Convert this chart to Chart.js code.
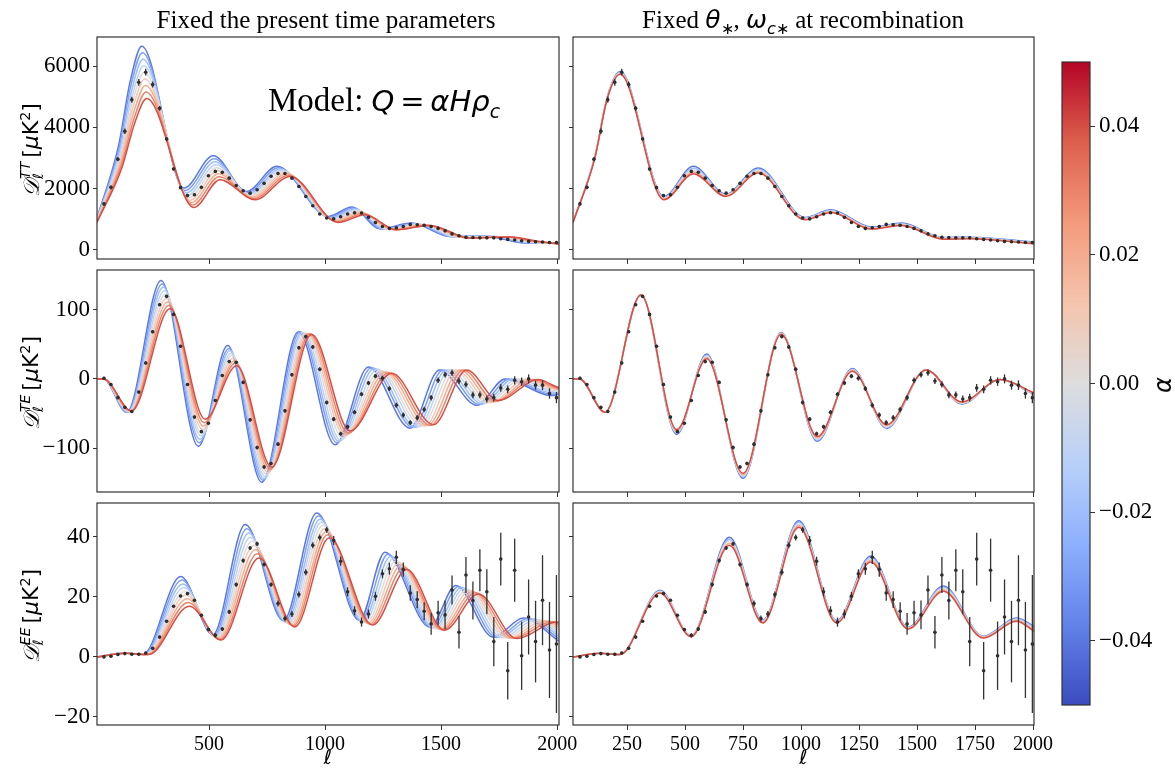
<!DOCTYPE html>
<html>
<head>
<meta charset="utf-8">
<script src="https://cdn.jsdelivr.net/npm/chart.js@4.4.0/dist/chart.umd.min.js"></script>
<style>
  body { margin: 0; background: #fff; }
  #wrap { position: relative; width: 1175px; height: 771px; overflow: hidden; font-family: 'Liberation Serif', serif; color: #000; }
  canvas { position: absolute; }
  .ttl { position: absolute; font-size: 25px; line-height: 25px; white-space: nowrap; transform: translateX(-50%); }
  .m { font-family: 'DejaVu Sans', sans-serif; font-style: italic; }
  .ylab { position: absolute; font-size: 22px; line-height: 22px; white-space: nowrap; transform: translate(-50%, -50%) rotate(-90deg); }
  .ylab .cal { font-family: 'DejaVu Sans', sans-serif; font-style: italic; font-size: 22px; }
  .ss { display: inline-flex; flex-direction: column; font-family: 'DejaVu Sans', sans-serif; font-style: italic; font-size: 14px; line-height: 13px; vertical-align: 8px; margin-right: 4px; }
  .sans { font-family: 'DejaVu Sans', sans-serif; }
  sup, sub { font-size: 65%; }
  #model { position: absolute; left: 268px; top: 84px; font-size: 33px; line-height: 33px; white-space: nowrap; }
  #model .f { font-size: 29px; }
  #alpha { position: absolute; left: 1163px; top: 385px; font-size: 24px; transform: translate(-50%, -50%) rotate(-90deg); }
</style>
</head>
<body>
<div id="wrap">
  <canvas id="ttL" width="590" height="244" style="left:0;top:27px"></canvas>
  <canvas id="teL" width="590" height="244" style="left:0;top:260px"></canvas>
  <canvas id="eeL" width="590" height="278" style="left:0;top:493px"></canvas>
  <canvas id="ttR" width="525" height="244" style="left:540px;top:27px"></canvas>
  <canvas id="teR" width="525" height="244" style="left:540px;top:260px"></canvas>
  <canvas id="eeR" width="525" height="278" style="left:540px;top:493px"></canvas>
  <canvas id="cbar" width="125" height="663" style="left:1050px;top:52px"></canvas>

  <div class="ttl" style="left:326px;top:7px">Fixed the present time parameters</div>
  <div class="ttl" style="left:803px;top:7px">Fixed <span class="m">θ</span><sub>∗</sub>, <span class="m">ω</span><sub><span class="m">c</span>∗</sub> at recombination</div>

  <div class="ylab" style="left:30px;top:150px"><span class="cal">𝒟</span><span class="ss"><span>TT</span><span>ℓ</span></span><span class="sans">[<i>μ</i>K<sup>2</sup>]</span></div>
  <div class="ylab" style="left:30px;top:383px"><span class="cal">𝒟</span><span class="ss"><span>TE</span><span>ℓ</span></span><span class="sans">[<i>μ</i>K<sup>2</sup>]</span></div>
  <div class="ylab" style="left:30px;top:616px"><span class="cal">𝒟</span><span class="ss"><span>EE</span><span>ℓ</span></span><span class="sans">[<i>μ</i>K<sup>2</sup>]</span></div>

  <div id="model">Model: <span class="f"><span class="m">Q</span><span class="sans">&thinsp;=&thinsp;</span><span class="m">αHρ</span><sub class="m">c</sub></span></div>
  <div id="alpha" class="m">α</div>
</div>

<script>
// tick positions
const xTicksLeft = [500, 1000, 1500, 2000];
const xTicksRight = [250, 500, 750, 1000, 1250, 1500, 1750, 2000];
const yTicksTT = [0, 2000, 4000, 6000];
const yTicksTE = [-100, 0, 100];
const yTicksEE = [-20, 0, 20, 40];
const cbarTicks = [-0.04, -0.02, 0, 0.02, 0.04];

// alpha of each model curve
const alphaLeft = [-0.04, -0.03, -0.02, -0.01, 0, 0.01, 0.02, 0.03, 0.04];
const alphaRight = [-0.04, -0.02, 0, 0.02, 0.04];

// binned observations (same in both columns)
const obsEll = [47, 77, 107, 137, 167, 197, 227, 257, 287, 317,
  347, 377, 407, 437, 467, 497, 527, 557, 587, 617,
  647, 677, 707, 737, 767, 797, 827, 857, 887, 917,
  947, 977, 1007, 1037, 1067, 1097, 1127, 1157, 1187, 1217,
  1247, 1277, 1307, 1337, 1367, 1397, 1427, 1457, 1487, 1517,
  1547, 1577, 1607, 1637, 1667, 1697, 1727, 1757, 1787, 1817,
  1847, 1877, 1907, 1937, 1967, 1997];
const obsTT = [1500, 2040, 2960, 3870, 4900, 5470, 5800, 5400, 4620, 3620,
  2640, 2030, 1770, 1800, 2040, 2420, 2560, 2530, 2340, 2100,
  1930, 1850, 1960, 2170, 2400, 2490, 2490, 2340, 2070, 1740,
  1440, 1170, 1040, 1010, 1080, 1170, 1210, 1200, 1060, 890,
  760, 700, 720, 760, 830, 820, 800, 760, 700, 620,
  520, 460, 410, 400, 390, 390, 390, 360, 340, 320,
  295, 275, 265, 255, 240, 240];
const errTT = [50, 60, 70, 90, 100, 110, 110, 100, 80, 60,
  50, 40, 35, 35, 35, 35, 30, 30, 30, 30,
  30, 30, 30, 30, 30, 30, 30, 30, 30, 30,
  25, 25, 25, 25, 25, 25, 25, 25, 25, 25,
  20, 20, 20, 20, 20, 20, 20, 20, 20, 20,
  18, 18, 18, 18, 18, 18, 18, 18, 18, 18,
  18, 18, 20, 20, 22, 22];
const obsTE = [1, -8, -27, -41, -47, -19, 23, 68, 107, 119,
  93, 47, -8, -55, -76, -64, -31, 5, 25, 24,
  -5, -59, -99, -127, -122, -94, -46, 6, 45, 61,
  46, 14, -34, -58, -79, -69, -48, -22, -6, 4,
  1, -14, -38, -52, -63, -56, -44, -27, -2, 6,
  9, -3, -8, -23, -23, -29, -27, -13, -15, -2,
  -4, 0, -9, -9, -21, -27];
const errTE = [2, 2, 2, 2, 2, 2, 2, 2, 2, 2,
  2, 2, 2, 2, 2, 2, 2, 2, 2, 2,
  2.5, 2.5, 2.5, 2.5, 2.5, 2.5, 2.5, 2.5, 2.5, 2.5,
  3, 3, 3, 3, 3, 3, 3, 3, 3, 3,
  3.5, 3.5, 3.5, 3.5, 3.5, 4, 4, 4, 4, 4,
  4.5, 4.5, 4.5, 5, 5, 5, 5.5, 5.5, 5.5, 6,
  6, 6.5, 6.5, 7, 7.5, 8];
const obsEE = [0, 0.2, 0.8, 1.1, 0.9, 0.9, 1.3, 2.9, 6.6, 11.9,
  16.9, 20.3, 21.1, 18.9, 13.9, 9.1, 7.2, 9.3, 15, 24.1,
  32.1, 36.3, 37.7, 30.8, 24.1, 17.8, 12.8, 14.3, 20.8, 28.2,
  37.2, 39.8, 42.4, 38.8, 31.9, 21.7, 15.4, 11.6, 14.3, 20.2,
  27.7, 29.4, 33.2, 29.1, 21.3, 19.1, 15.2, 11, 14.7, 14,
  22.3, 8.2, 27.3, 18.8, 28.9, 21.7, 5.1, 32.6, -4.6, 28.9,
  0.4, 13.3, 5.1, 18.9, 2.3, 4.3];
const errEE = [0.2, 0.2, 0.2, 0.2, 0.2, 0.2, 0.2, 0.4, 0.4, 0.4,
  0.4, 0.4, 0.4, 0.4, 0.4, 0.4, 0.7, 0.7, 0.7, 0.7,
  0.7, 0.7, 0.7, 0.7, 0.7, 1, 1, 1, 1, 1,
  1, 1, 1, 1.5, 1.5, 1.5, 1.5, 1.5, 1.5, 1.5,
  1.5, 2, 2.2, 2.4, 2.6, 2.8, 3, 3.6, 4, 4.8,
  4.8, 5.4, 6, 6.3, 7, 7.5, 8.2, 8.8, 9.6, 10.5,
  11.4, 12.5, 13.6, 15, 16, 23];

// left column: [ell, D] turning points of each model curve, alpha = -0.04 ... 0.04
const ttLeft = [
  [[17,1030],[110,3400],[160,5500],[210,6650],[392,2017],[518,3074],[662,1908],[792,2725],[1014,1090],[1115,1395],[1237,687],[1373,872],[1539,436],[1690,447],[1860,220],[2008,215]],
  [[17,1012],[112,3312],[162,5331],[213,6436],[397,1938],[522,2976],[666,1874],[799,2684],[1019,1066],[1122,1364],[1246,683],[1383,862],[1550,429],[1703,444],[1866,229],[2008,212]],
  [[17,995],[114,3225],[165,5162],[215,6222],[403,1859],[525,2878],[671,1840],[806,2643],[1025,1041],[1129,1332],[1255,679],[1393,853],[1560,422],[1717,440],[1872,238],[2008,209]],
  [[17,978],[116,3138],[168,4994],[218,6009],[408,1780],[529,2780],[675,1806],[813,2602],[1030,1016],[1136,1301],[1264,675],[1403,844],[1571,415],[1730,437],[1879,246],[2008,206]],
  [[17,960],[118,3050],[170,4825],[220,5795],[414,1700],[532,2682],[680,1772],[820,2562],[1036,992],[1144,1270],[1273,670],[1412,834],[1582,408],[1744,434],[1885,255],[2008,202]],
  [[17,942],[119,2962],[172,4656],[223,5581],[419,1621],[536,2584],[684,1737],[828,2521],[1041,968],[1151,1239],[1282,666],[1422,824],[1593,402],[1757,430],[1891,264],[2008,199]],
  [[17,925],[121,2875],[175,4488],[226,5368],[424,1542],[540,2486],[689,1703],[835,2480],[1046,943],[1158,1208],[1291,662],[1432,815],[1604,395],[1770,427],[1898,272],[2008,196]],
  [[17,908],[123,2788],[178,4319],[228,5154],[430,1463],[543,2388],[693,1669],[842,2439],[1052,918],[1165,1176],[1300,658],[1442,806],[1614,388],[1784,424],[1904,281],[2008,193]],
  [[17,890],[125,2700],[180,4150],[231,4940],[435,1384],[547,2290],[698,1635],[849,2398],[1057,894],[1172,1145],[1309,654],[1452,796],[1625,381],[1797,420],[1910,290],[2008,190]]
];
const teLeft = [
  [[17,0],[45,0],[145,-48],[293,142],[454,-97],[580,48],[727,-149],[885,68],[1043,-95],[1187,17],[1366,-71],[1493,13],[1654,-38],[1776,0],[1975,-24],[2008,-22]],
  [[17,0],[45,0],[148,-48],[298,137],[458,-92],[585,44],[732,-146],[892,68],[1051,-92],[1200,16],[1379,-70],[1508,13],[1666,-37],[1794,0],[1975,-22],[2008,-21]],
  [[17,0],[45,0],[150,-48],[303,132],[461,-87],[590,41],[738,-144],[899,67],[1059,-90],[1212,15],[1391,-70],[1522,13],[1677,-36],[1812,0],[1975,-20],[2008,-20]],
  [[17,0],[45,0],[153,-47],[308,127],[465,-82],[595,37],[743,-141],[906,67],[1067,-88],[1225,14],[1404,-69],[1537,13],[1689,-35],[1830,0],[1975,-18],[2008,-19]],
  [[17,0],[45,0],[156,-47],[312,122],[468,-78],[600,34],[748,-138],[914,66],[1076,-85],[1237,12],[1416,-68],[1552,13],[1700,-34],[1848,0],[1975,-16],[2008,-18]],
  [[17,0],[45,0],[158,-47],[317,116],[472,-73],[604,30],[754,-135],[921,66],[1084,-82],[1250,11],[1429,-68],[1566,13],[1712,-34],[1865,-1],[1975,-14],[2008,-16]],
  [[17,0],[45,0],[161,-47],[322,111],[476,-68],[609,26],[759,-132],[928,65],[1092,-80],[1262,10],[1442,-67],[1581,13],[1724,-33],[1883,-1],[1975,-12],[2008,-15]],
  [[17,0],[45,0],[163,-46],[327,106],[479,-63],[614,23],[765,-130],[935,65],[1100,-78],[1275,9],[1454,-67],[1595,13],[1735,-32],[1901,-1],[1975,-10],[2008,-14]],
  [[17,0],[45,0],[166,-46],[332,101],[483,-58],[619,19],[770,-127],[942,64],[1108,-75],[1287,8],[1467,-66],[1610,13],[1747,-31],[1919,-1],[1975,-8],[2008,-13]]
];
const eeLeft = [
  [[17,0],[135,1.3],[215,0.8],[378,26.8],[516,7.4],[656,44.1],[820,12.1],[964,48.0],[1148,12.2],[1258,34.9],[1452,9.9],[1563,23.8],[1725,6.6],[1855,13.0],[2008,5.2]],
  [[17,0],[136,1.3],[218,0.8],[383,25.6],[521,7.2],[663,42.7],[826,11.8],[971,47.0],[1155,12.0],[1270,34.2],[1460,9.8],[1575,23.5],[1738,6.5],[1873,12.8],[2008,6.0]],
  [[17,0],[136,1.3],[221,0.8],[387,24.3],[525,7.0],[671,41.3],[833,11.6],[978,45.9],[1162,11.8],[1282,33.5],[1468,9.7],[1588,23.1],[1750,6.5],[1891,12.7],[2008,6.8]],
  [[17,0],[137,1.3],[224,0.8],[392,23.1],[530,6.7],[678,39.9],[839,11.3],[984,44.9],[1169,11.6],[1293,32.7],[1475,9.5],[1600,22.8],[1763,6.4],[1909,12.5],[2008,7.6]],
  [[17,0],[138,1.2],[228,0.8],[397,21.9],[534,6.5],[686,38.6],[845,11.1],[991,43.9],[1177,11.4],[1305,32.0],[1483,9.4],[1612,22.4],[1776,6.4],[1927,12.3],[2008,8.4]],
  [[17,0],[138,1.2],[231,0.8],[401,20.6],[538,6.3],[693,37.2],[851,10.8],[998,42.8],[1184,11.2],[1317,31.3],[1491,9.3],[1624,22.1],[1788,6.3],[1944,12.1],[2008,9.1]],
  [[17,0],[139,1.2],[234,0.8],[406,19.4],[543,6.1],[700,35.8],[858,10.5],[1005,41.8],[1191,11.0],[1329,30.6],[1499,9.2],[1637,21.7],[1801,6.2],[1962,12.0],[2008,9.9]],
  [[17,0],[139,1.2],[237,0.8],[410,18.1],[548,5.8],[708,34.4],[864,10.3],[1011,40.7],[1198,10.8],[1340,29.8],[1506,9.0],[1649,21.4],[1813,6.2],[1980,11.8],[2008,10.7]],
  [[17,0],[140,1.2],[240,0.8],[415,16.9],[552,5.6],[715,33.0],[870,10.0],[1018,39.7],[1205,10.6],[1352,29.1],[1514,8.9],[1661,21.0],[1826,6.1],[1998,11.6],[2008,11.5]]
];

// right column: shared ell of turning points, D per alpha = -0.04 ... 0.04
const ttRightEll = [17, 110, 165, 220, 409, 536, 675, 816, 1017, 1128, 1304, 1433, 1613, 1728, 2004];
const ttRight = [
  [900, 3000, 5000, 5820, 1744, 2725, 1820, 2670, 1057, 1308, 741, 872, 403, 414, 250],
  [898, 2990, 4985, 5798, 1717, 2665, 1801, 2629, 1038, 1286, 725, 853, 390, 401, 237],
  [895, 2980, 4970, 5775, 1690, 2605, 1782, 2589, 1019, 1265, 709, 834, 376, 387, 223],
  [893, 2970, 4955, 5753, 1662, 2545, 1763, 2548, 1000, 1243, 692, 815, 363, 374, 210],
  [890, 2960, 4940, 5730, 1635, 2485, 1744, 2507, 981, 1221, 676, 796, 349, 360, 196]
];
const teRightEll = [17, 45, 155, 310, 464, 593, 750, 914, 1070, 1221, 1369, 1539, 1692, 1858, 2004];
const teRight = [
  [0, 0, -48, 121, -80, 36, -143, 67, -90, 15, -71, 13, -36, -1, -22],
  [0, 0, -48, 121, -78, 34, -141, 66, -88, 14, -70, 13, -35, -1, -22],
  [0, 0, -48, 121, -77, 33, -140, 66, -87, 13, -69, 13, -35, -1, -21],
  [0, 0, -48, 121, -75, 31, -138, 65, -85, 12, -67, 13, -34, -1, -21],
  [0, 0, -48, 121, -73, 29, -136, 64, -83, 11, -66, 13, -33, -1, -20]
];
const eeRightEll = [17, 133, 220, 392, 526, 691, 835, 990, 1154, 1300, 1462, 1613, 1786, 1929, 2004];
const eeRight = [
  [0, 1.2, 0.8, 22.2, 7.1, 39.9, 12.2, 45.4, 12.1, 33.6, 9.9, 23.6, 6.9, 13.0, 10.2],
  [0, 1.2, 0.8, 22.0, 7.0, 39.2, 12.0, 44.9, 11.9, 33.1, 9.8, 23.2, 6.8, 12.7, 9.8],
  [0, 1.2, 0.8, 21.8, 6.9, 38.6, 11.8, 44.3, 11.7, 32.6, 9.6, 22.8, 6.6, 12.5, 9.4],
  [0, 1.2, 0.8, 21.5, 6.8, 37.9, 11.5, 43.8, 11.5, 32.1, 9.5, 22.3, 6.5, 12.2, 9.0],
  [0, 1.2, 0.8, 21.3, 6.7, 37.2, 11.3, 43.2, 11.3, 31.6, 9.3, 21.9, 6.3, 11.9, 8.6]
];

// coolwarm colormap anchors
const cwStops = [[59,76,192],[98,130,234],[141,176,254],[184,208,249],[221,221,221],
  [245,196,173],[244,154,123],[222,96,76],[180,4,38]];

function coolwarm(t) {
  const n = cwStops.length - 1;
  const p = Math.min(Math.max(t, 0), 1) * n;
  const i = Math.min(Math.floor(p), n - 1), f = p - i;
  const a = cwStops[i], b = cwStops[i + 1];
  return 'rgb(' + [0, 1, 2].map(j => Math.round(a[j] + (b[j] - a[j]) * f)).join(',') + ')';
}
function alphaColor(a) { return coolwarm((a + 0.05) / 0.1); }
function minus(v) { return v < 0 ? '\u2212' + Math.abs(v) : String(v); }

const frame = {
  id: 'frame',
  afterDraw(chart) {
    const a = chart.chartArea, ctx = chart.ctx;
    ctx.save();
    ctx.strokeStyle = '#333';
    ctx.lineWidth = 1.2;
    ctx.strokeRect(a.left, a.top, a.right - a.left, a.bottom - a.top);
    ctx.restore();
  }
};

const errorBars = {
  id: 'errorBars',
  afterDatasetsDraw(chart) {
    const {ctx, chartArea} = chart;
    const x = chart.scales.x, y = chart.scales.y;
    ctx.save();
    ctx.beginPath();
    ctx.rect(chartArea.left, chartArea.top, chartArea.right - chartArea.left, chartArea.bottom - chartArea.top);
    ctx.clip();
    chart.data.datasets.forEach(ds => {
      if (!ds.errorBars) return;
      ctx.strokeStyle = '#333';
      ctx.lineWidth = 1.3;
      ds.data.forEach((p, i) => {
        const e = ds.errorBars[i];
        const px = x.getPixelForValue(p.x);
        ctx.beginPath();
        ctx.moveTo(px, y.getPixelForValue(p.y - e));
        ctx.lineTo(px, y.getPixelForValue(p.y + e));
        ctx.stroke();
      });
    });
    ctx.restore();
  }
};

function noPad(s) { s.paddingLeft = 0; s.paddingRight = 0; s.paddingTop = 0; s.paddingBottom = 0; }

function panel(id, o) {
  const datasets = o.curves.map((pts, k) => ({
    data: pts.map(p => ({x: p[0], y: p[1]})),
    borderColor: alphaColor(o.alphas[k]),
    borderWidth: 1.5,
    pointRadius: 0,
    cubicInterpolationMode: 'monotone',
    fill: false,
    order: 100 - k
  }));
  datasets.push({
    data: obsEll.map((l, i) => ({x: l, y: o.obs[i]})),
    errorBars: o.err,
    showLine: false,
    pointRadius: 1.8,
    pointBorderWidth: 0,
    pointBackgroundColor: '#2a2a2a',
    order: 0
  });

  new Chart(document.getElementById(id), {
    type: 'line',
    data: { datasets: datasets },
    options: {
      responsive: false,
      animation: false,
      layout: { padding: { left: 0, right: o.padRight, top: 10, bottom: 0 } },
      plugins: { legend: { display: false }, tooltip: { enabled: false } },
      scales: {
        x: {
          type: 'linear', min: 17, max: o.xmax,
          afterBuildTicks: s => { s.ticks = o.xticks.map(v => ({ value: v })); },
          afterFit: s => { s.height = o.xh; noPad(s); },
          grid: { drawOnChartArea: false, tickLength: 5, color: '#333' },
          border: { display: false },
          ticks: { display: o.xlabels, color: '#000', padding: 3, maxRotation: 0,
                   font: { family: 'Liberation Serif', size: 20 }, callback: v => String(v) },
          title: { display: o.xlabels, text: 'ℓ', color: '#000', padding: 0,
                   font: { family: 'DejaVu Sans', style: 'italic', size: 20 } }
        },
        y: {
          min: o.ymin, max: o.ymax,
          afterBuildTicks: s => { s.ticks = o.yticks.map(v => ({ value: v })); },
          afterFit: s => { s.width = o.yw; noPad(s); },
          grid: { drawOnChartArea: false, tickLength: 4, color: '#333' },
          border: { display: false },
          ticks: { display: o.ylabels, color: '#000', padding: 3,
                   font: { family: 'Liberation Serif', size: 23 }, callback: v => minus(v) }
        }
      }
    },
    plugins: [errorBars, frame]
  });
}

function sameEll(ell, rows) { return rows.map(r => ell.map((l, i) => [l, r[i]])); }

const left = { alphas: alphaLeft, xmax: 2008, xticks: xTicksLeft, yw: 97, padRight: 31, ylabels: true };
const right = { alphas: alphaRight, xmax: 2004, xticks: xTicksRight, yw: 33, padRight: 31, ylabels: false };

panel('ttL', Object.assign({}, left, { curves: ttLeft, obs: obsTT, err: errTT, ymin: -300, ymax: 6950, yticks: yTicksTT, xh: 12, xlabels: false }));
panel('teL', Object.assign({}, left, { curves: teLeft, obs: obsTE, err: errTE, ymin: -163, ymax: 157, yticks: yTicksTE, xh: 12, xlabels: false }));
panel('eeL', Object.assign({}, left, { curves: eeLeft, obs: obsEE, err: errEE, ymin: -22.7, ymax: 51.3, yticks: yTicksEE, xh: 46, xlabels: true }));
panel('ttR', Object.assign({}, right, { curves: sameEll(ttRightEll, ttRight), obs: obsTT, err: errTT, ymin: -300, ymax: 6950, yticks: yTicksTT, xh: 12, xlabels: false }));
panel('teR', Object.assign({}, right, { curves: sameEll(teRightEll, teRight), obs: obsTE, err: errTE, ymin: -163, ymax: 157, yticks: yTicksTE, xh: 12, xlabels: false }));
panel('eeR', Object.assign({}, right, { curves: sameEll(eeRightEll, eeRight), obs: obsEE, err: errEE, ymin: -22.7, ymax: 51.3, yticks: yTicksEE, xh: 46, xlabels: true }));

// colorbar
new Chart(document.getElementById('cbar'), {
  type: 'bar',
  data: {
    labels: ['α'],
    datasets: [{
      data: [[-0.05, 0.05]],
      borderWidth: 0,
      barPercentage: 1,
      categoryPercentage: 1,
      backgroundColor: c => {
        const area = c.chart.chartArea;
        if (!area) return '#ddd';
        const g = c.chart.ctx.createLinearGradient(0, area.bottom, 0, area.top);
        cwStops.forEach((s, i) => g.addColorStop(i / (cwStops.length - 1), 'rgb(' + s.join(',') + ')'));
        return g;
      }
    }]
  },
  options: {
    responsive: false,
    animation: false,
    layout: { padding: { left: 12, right: 0, top: 10, bottom: 10 } },
    plugins: { legend: { display: false }, tooltip: { enabled: false } },
    scales: {
      x: { display: false },
      y: {
        position: 'right', min: -0.05, max: 0.05,
        afterBuildTicks: s => { s.ticks = cbarTicks.map(v => ({ value: v })); },
        afterFit: s => { s.width = 85; noPad(s); },
        grid: { drawOnChartArea: false, tickLength: 5, color: '#333' },
        border: { display: false },
        ticks: { color: '#000', padding: 4, font: { family: 'Liberation Serif', size: 23 },
                 callback: v => (v < 0 ? '\u2212' : '') + Math.abs(v).toFixed(2) }
      }
    }
  },
  plugins: [frame]
});
</script>
</body>
</html>
